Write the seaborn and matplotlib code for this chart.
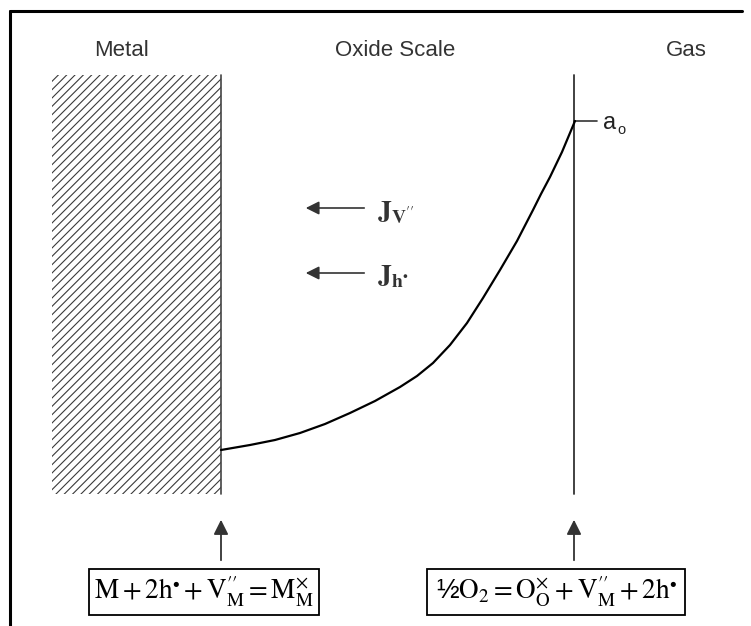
import matplotlib
matplotlib.use('Agg')
import matplotlib.pyplot as plt
import seaborn as sns
from matplotlib.patches import Rectangle

sns.set_theme(style='white')
plt.rcParams['font.family'] = ['Liberation Sans', 'DejaVu Sans']
plt.rcParams['mathtext.fontset'] = 'stix'
plt.rcParams['hatch.linewidth'] = 0.8

# oxygen activity profile across the scale (pixel coords of the drawing)
curve_x = [221, 250, 275, 300, 325, 350, 375, 400, 417, 433, 450, 467, 483,
           500, 517, 533, 541, 550, 562, 575]
curve_y = [450, 445, 440, 433, 424, 413, 401, 387, 376, 363, 345, 323, 298,
           270, 241, 210, 194, 177, 152, 121]

region_labels = ['Metal', 'Oxide Scale', 'Gas']
region_x = [121, 395, 686]

flux_labels = [r'$\mathbf{J}_{\mathbf{V}^{\prime\prime}}$', r'$\mathbf{J}_{\mathbf{h}^{\bullet}}$']
flux_y = [208, 273]

equations = [
    r'$\mathrm{M}+2\mathrm{h}^{\bullet}+\mathrm{V}_{\mathrm{M}}^{\prime\prime}=\mathrm{M}_{\mathrm{M}}^{\times}$',
    r'½$\mathrm{O}_{2}=\mathrm{O}_{\mathrm{O}}^{\times}+\mathrm{V}_{\mathrm{M}}^{\prime\prime}+2\mathrm{h}^{\bullet}$',
]
eq_boxes = [(89, 319), (427, 685)]
eq_arrow_x = [221, 574]

fig = plt.figure(figsize=(7.51, 6.26), dpi=100)
ax = fig.add_axes([0, 0, 1, 1])
ax.set_xlim(0, 751)
ax.set_ylim(626, 0)
ax.axis('off')

# frame (top + left only, the rest is cropped)
ax.plot([10, 10], [626, 11], color='black', lw=2.2)
ax.plot([10, 742], [11, 11], color='black', lw=2.2)

# metal block
ax.add_patch(Rectangle((52, 75), 169, 419, facecolor='white', edgecolor='#3a3a3a',
                       lw=0, hatch='////'))
ax.plot([221, 221], [75, 494], color='#444444', lw=1.2)

# gas interface
ax.plot([574, 574], [75, 494], color='#333333', lw=1.3)
ax.plot([574, 597], [121, 121], color='#333333', lw=1.2)
ax.text(603, 123, 'a', fontsize=17, color='#222222', va='center')
ax.text(617, 130, 'o', fontsize=10.5, color='#222222', va='center')

sns.lineplot(x=curve_x, y=curve_y, ax=ax, color='black', lw=1.6)

for lab, x in zip(region_labels, region_x):
    ax.text(x, 50, lab, fontsize=16, color='#333333', ha='center', va='center')

for lab, y in zip(flux_labels, flux_y):
    ax.annotate('', xy=(303, y), xytext=(367, y),
                arrowprops=dict(arrowstyle='-|>', color='#333333', lw=1.2, mutation_scale=20))
    ax.text(377, y + 4, lab, fontsize=20, color='#333333', va='center')

for eq, (x0, x1), ax_x in zip(equations, eq_boxes, eq_arrow_x):
    ax.annotate('', xy=(ax_x, 517), xytext=(ax_x, 563),
                arrowprops=dict(arrowstyle='-|>', color='#333333', lw=1.3, mutation_scale=22))
    ax.add_patch(Rectangle((x0, 569), x1 - x0, 46, facecolor='white', edgecolor='black', lw=1.3))
    ax.text((x0 + x1) / 2, 592, eq, fontsize=19.5, color='black', ha='center', va='center')

fig.savefig('out.png', dpi=100)
